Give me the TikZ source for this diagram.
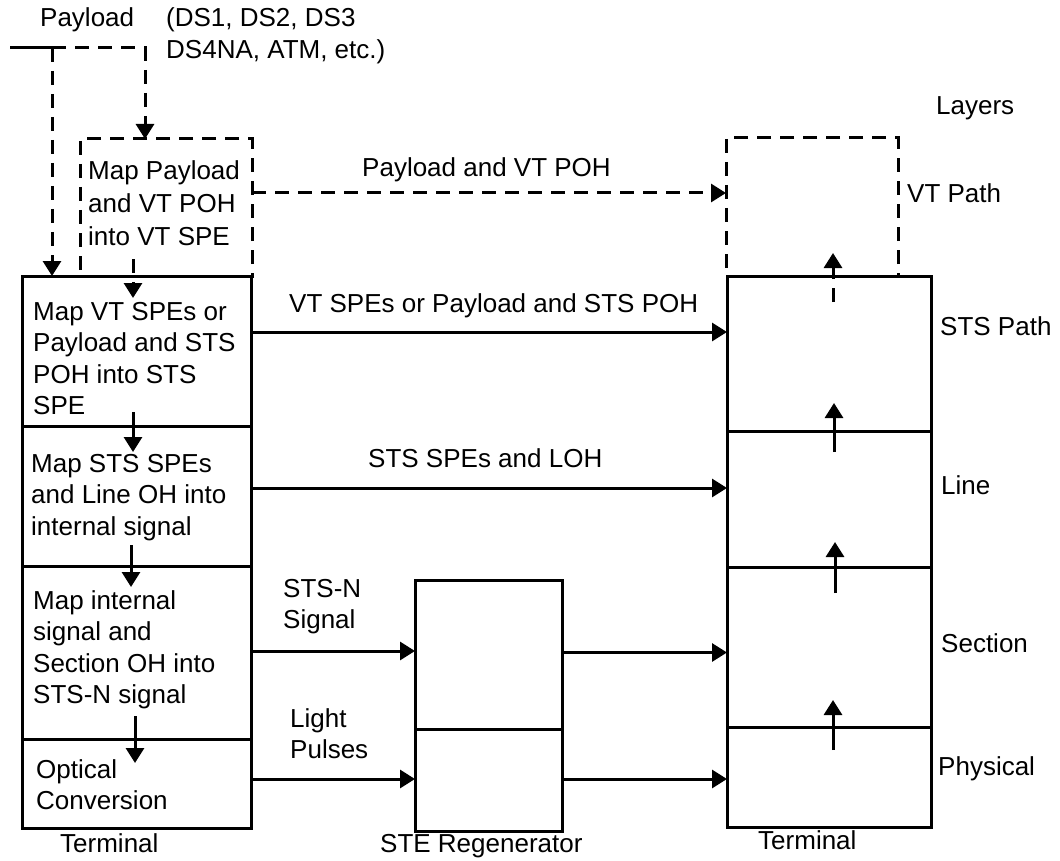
\documentclass[tikz,border=0pt]{standalone}
\usepackage{fontspec}
\setmainfont{Liberation Sans}
\usetikzlibrary{arrows.meta}
\begin{document}
\begin{tikzpicture}[x=1pt,y=-1pt,
  box/.style={draw,line width=3pt,inner sep=0pt,outer sep=0pt,anchor=north west},
  dbox/.style={box,dash pattern=on 14pt off 9pt},
  txt/.style={font=\fontsize{26}{31.5}\selectfont,inner sep=0pt,anchor=base west,align=left},
  arr/.style={line width=3pt,-{Triangle[length=15pt,width=18pt]}},
  darr/.style={arr,dash pattern=on 14pt off 9pt},
]
\useasboundingbox (0,0) rectangle (1060,861);

% dashed VT boxes
\node[dbox,minimum width=172pt,minimum height=137pt] (L1) at (80,139) {};
\node[dbox,minimum width=172pt,minimum height=138pt] (R0) at (726,138) {};

% left terminal
\node[box,minimum width=229pt,minimum height=150pt] (L2) at (22,276) {};
\node[box,minimum width=229pt,minimum height=140pt] (L3) at (22,426) {};
\node[box,minimum width=229pt,minimum height=173pt] (L4) at (22,566) {};
\node[box,minimum width=229pt,minimum height=89pt] (L5) at (22,739) {};

% regenerator
\node[box,minimum width=147pt,minimum height=149pt] (G1) at (415,580) {};
\node[box,minimum width=147pt,minimum height=102pt] (G2) at (415,729) {};

% right terminal
\node[box,minimum width=204pt,minimum height=155pt] (R1) at (727,276) {};
\node[box,minimum width=204pt,minimum height=136pt] (R2) at (727,431) {};
\node[box,minimum width=204pt,minimum height=160pt] (R3) at (727,567) {};
\node[box,minimum width=204pt,minimum height=100pt] (R4) at (727,727) {};

% payload input
\coordinate (P0) at (10,48);
\coordinate (P1) at (52,48);
\coordinate (P2) at (145,48);
\draw[line width=3pt] (P0) -- (P1);
\draw[darr] (P1) -- (P1 |- L2.north);
\draw[darr] (P1) -- (P2) -- (P2 |- L1.north);

% horizontal connectors
\draw[darr] ([yshift=14.5pt]L1.east) -- ([yshift=14.5pt]L1.east -| R0.west);
\draw[arr] ([yshift=19pt]L2.east) -- ([yshift=19pt]L2.east -| R1.west);
\draw[arr] ([yshift=8pt]L3.east) -- ([yshift=8pt]L3.east -| R2.west);
\draw[arr] ([yshift=1.5pt]L4.east) -- ([yshift=1.5pt]L4.east -| G1.west);
\draw[arr] ([yshift=2pt]G1.east) -- ([yshift=2pt]G1.east -| R3.west);
\draw[arr] ([yshift=4.5pt]L5.east) -- ([yshift=4.5pt]L5.east -| G2.west);
\draw[arr] ([yshift=1pt]G2.east) -- ([yshift=1pt]G2.east -| R4.west);

% down arrows in left terminal
\draw[darr] ([xshift=-33pt,yshift=17pt]L1.south) -- ([xshift=-3.5pt,yshift=-22pt]L2.north);
\draw[arr] ([xshift=-3.5pt,yshift=14pt]L2.south) -- ([xshift=-3.5pt,yshift=-26pt]L3.north);
\draw[arr] ([xshift=-5.5pt,yshift=21pt]L3.south) -- ([xshift=-5.5pt,yshift=-21pt]L4.north);
\draw[arr] ([xshift=-1.5pt,yshift=23pt]L4.south) -- ([xshift=-1.5pt,yshift=-24pt]L5.north);

% up arrows in right terminal
\draw[darr] ([xshift=4pt,yshift=-26pt]R1.north) -- ([xshift=21pt,yshift=23pt]R0.south);
\draw[arr] ([xshift=5pt,yshift=-21pt]R2.north) -- ([xshift=5pt,yshift=28pt]R1.south);
\draw[arr] ([xshift=6pt,yshift=-26pt]R3.north) -- ([xshift=6pt,yshift=25pt]R2.south);
\draw[arr] ([xshift=4pt,yshift=-23pt]R4.north) -- ([xshift=4pt,yshift=27pt]R3.south);

% box texts (anchor = baseline of last line)
\node[txt,font=\fontsize{26}{33}\selectfont] (t1) at (88,245) {Map Payload\\and VT POH\\into VT SPE};
\node[txt] (t2) at (33,414.5) {Map VT SPEs or\\Payload and STS\\POH into STS\\SPE};
\node[txt] (t3) at (31,535) {Map STS SPEs\\and Line OH into\\internal signal};
\node[txt] (t4) at (33,703.5) {Map internal\\signal and\\Section OH into\\STS-N signal};
\node[txt] (t5) at (36,809.5) {Optical\\Conversion};

% connector labels
\node[txt] (lpay) at (40,27) {Payload};
\node[txt] (lds) at (166,58.5) {(DS1, DS2, DS3\\DS4NA, ATM, etc.)};
\node[txt] (lvt) at (362,177) {Payload and VT POH};
\node[txt] (lsts) at (289,312) {VT SPEs or Payload and STS POH};
\node[txt] (lloh) at (368,467) {STS SPEs and LOH};
\node[txt] (lstsn) at (283,628.5) {STS-N\\Signal};
\node[txt] (llight) at (290,758.5) {Light\\Pulses};

% layer labels
\node[txt] (layers) at (936,115) {Layers};
\node[txt] (lyvt) at (907,203) {VT Path};
\node[txt] (lysts) at (940,335) {STS Path};
\node[txt] (lyline) at (941,494) {Line};
\node[txt] (lysec) at (941,652) {Section};
\node[txt] (lyphy) at (938,775) {Physical};

% equipment labels
\node[txt] (term1) at (60,852) {Terminal};
\node[txt] (ste) at (380,852) {STE Regenerator};
\node[txt] (term2) at (758,849) {Terminal};
\end{tikzpicture}
\end{document}
